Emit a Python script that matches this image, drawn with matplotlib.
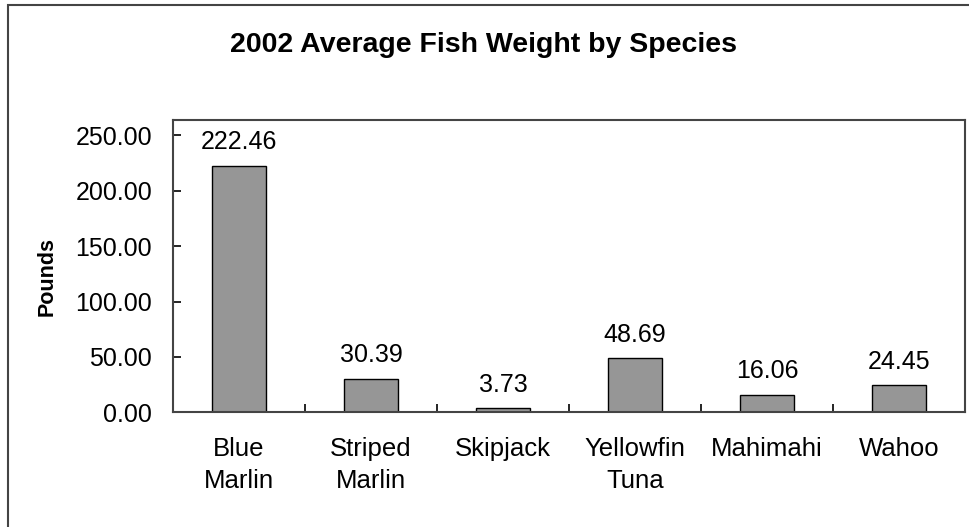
import matplotlib
matplotlib.use("Agg")
import matplotlib.pyplot as plt
from matplotlib.patches import Rectangle

species = ["Blue\nMarlin", "Striped\nMarlin", "Skipjack", "Yellowfin\nTuna", "Mahimahi", "Wahoo"]
avg_weight = [222.46, 30.39, 3.73, 48.69, 16.06, 24.45]
y_ticks = [0, 50, 100, 150, 200, 250]

plt.rcParams['font.family'] = ['Liberation Sans', 'DejaVu Sans']

fig = plt.figure(figsize=(9.69, 5.27), dpi=100)
ax = fig.add_axes([0.1785, 0.2173, 0.9959 - 0.1785, 0.7732 - 0.2173])

# outer chart frame (cropped at right and bottom)
fig.patches.append(Rectangle((8 / 969, -0.1), 1.2, 1 - 5 / 527 + 0.1, transform=fig.transFigure,
                             fill=False, edgecolor='#444444', linewidth=1.5))

x = list(range(len(species)))
ax.bar(x, avg_weight, width=0.41, color='#969696', edgecolor='black', linewidth=1)

for xi, v in zip(x, avg_weight):
    ax.annotate(f"{v:.2f}", (xi, v), xytext=(0, 12), textcoords='offset points',
                ha='center', va='baseline', fontsize=18)

ax.set_xlim(-0.5, len(species) - 0.5)
ax.set_ylim(0, 264)
ax.set_yticks(y_ticks)
ax.set_yticklabels([f"{t:.2f}" for t in y_ticks], fontsize=18)
ax.tick_params(axis='y', direction='in', length=6, width=1.2, pad=15)

ax.set_xticks([i + 0.5 for i in x])
ax.set_xticklabels([])
ax.set_xticks(x, minor=True)
ax.set_xticklabels(species, minor=True, fontsize=18.5, linespacing=1.42)
ax.tick_params(axis='x', which='major', direction='in', length=6, width=1.2)
ax.tick_params(axis='x', which='minor', length=0, pad=18)

for s in ax.spines.values():
    s.set_color('#444444')
    s.set_linewidth(1.5)

fig.text(0.499, 0.915, "2002 Average Fish Weight by Species", ha='center', va='center',
         fontsize=20.5, fontweight='bold')
fig.text(47 / 969, 1 - 277 / 527, "Pounds", rotation=90, ha='center', va='center',
         fontsize=15.5, fontweight='bold')

fig.savefig("out.png", dpi=100)
